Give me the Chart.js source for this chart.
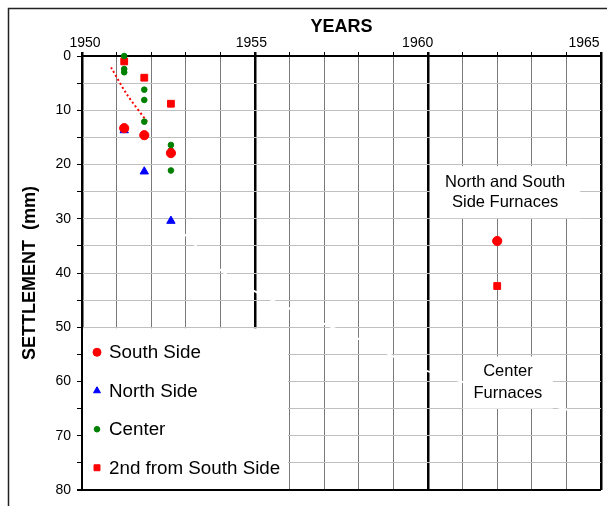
<!DOCTYPE html>
<html>
<head>
<meta charset="utf-8">
<script src="https://cdn.jsdelivr.net/npm/chart.js"></script>
<style>
  html, body { margin: 0; padding: 0; background: #fff; }
  canvas { display: block; }
</style>
</head>
<body>
<canvas id="chart" width="607" height="506"></canvas>
<script>
// Settlement vs. year, Excel-style scatter with hand-drawn legend and text boxes.

const yearTicks = [1950, 1955, 1960, 1965];

const southX = [1951.22, 1951.8, 1952.57, 1962.0];
const southY = [13.3, 14.6, 17.9, 34.1];

const northX = [1951.22, 1951.8, 1952.57];
const northY = [13.7, 21.3, 30.4];

const centerX = [1951.22, 1951.22, 1951.22, 1951.8, 1951.8, 1951.8, 1952.57, 1952.57, 1952.57];
const centerY = [0, 2.4, 3.0, 6.2, 8.1, 12.1, 16.4, 17.4, 21.1];

const secondX = [1951.22, 1951.8, 1952.57, 1962.0];
const secondY = [1.0, 4.0, 8.8, 42.4];

// red dotted trend through the first readings
const trendX = [1950.84, 1951.29, 1951.88];
const trendY = [2.1, 7.0, 12.1];

// faint white curve that only shows where it cuts the grid
const fadedX = [1952.98, 1953.99, 1955.0, 1955.95, 1956.97, 1957.98, 1959.94, 1963.9, 1964.97];
const fadedY = [32.9, 39.4, 43.4, 46.4, 49.3, 52.1, 58.0, 65.0, 66.9];

const FONT = "'Liberation Sans', Arial, sans-serif";
Chart.defaults.font.family = FONT;
Chart.defaults.color = "#000";

const pts = (xs, ys) => xs.map((x, i) => ({ x, y: ys[i] }));

const frame = {
  id: "frame",
  beforeDraw(chart) {
    const { ctx, width, height } = chart;
    ctx.save();
    ctx.fillStyle = "#fff";
    ctx.fillRect(0, 0, width, height);
    ctx.strokeStyle = "#222";
    ctx.lineWidth = 1.5;
    ctx.beginPath();
    ctx.moveTo(8.5, height);
    ctx.lineTo(8.5, 8.5);
    ctx.lineTo(width, 8.5);
    ctx.stroke();
    ctx.restore();
  }
};

const notes = [
  { lines: ["North and South", "Side Furnaces"], x: 1962.23, y: 25.1, w: 150, h: 52, gap: 20 },
  { lines: ["Center", "Furnaces"], x: 1962.31, y: 60.2, w: 90, h: 52, gap: 22 },
];

const overlay = {
  id: "overlay",
  afterDatasetsDraw(chart) {
    const { ctx, chartArea, scales } = chart;
    const xs = scales.x, ys = scales.y;
    ctx.save();

    // text boxes
    ctx.font = "16.5px " + FONT;
    ctx.textAlign = "center";
    ctx.textBaseline = "middle";
    notes.forEach(n => {
      const cx = xs.getPixelForValue(n.x);
      const cy = ys.getPixelForValue(n.y);
      ctx.fillStyle = "#fff";
      ctx.fillRect(cx - n.w / 2, cy - n.h / 2, n.w, n.h);
      ctx.fillStyle = "#000";
      n.lines.forEach((t, i) => {
        ctx.fillText(t, cx, cy + (i - (n.lines.length - 1) / 2) * n.gap);
      });
    });

    // legend box in lower-left corner
    const left = chartArea.left + 1;
    const top = ys.getPixelForValue(50) + 1;
    const right = xs.getPixelForValue(1955.95);
    const bottom = chartArea.bottom - 1;
    ctx.fillStyle = "#fff";
    ctx.fillRect(left, top, right - left, bottom - top);

    ctx.font = "18.8px " + FONT;
    ctx.textAlign = "left";
    chart.data.datasets.filter(d => !d.showLine).forEach((d, i) => {
      const y = top + 24 + i * 38.5;
      ctx.fillStyle = d.backgroundColor;
      ctx.strokeStyle = d.borderColor;
      Chart.helpers.drawPoint(ctx, {
        pointStyle: d.pointStyle, radius: d.legendRadius, rotation: 0, borderWidth: 1
      }, left + 14, y);
      ctx.fillStyle = "#000";
      ctx.fillText(d.label, left + 26, y + 1);
    });
    ctx.restore();
  }
};

const marker = (label, xs, ys, color, style, radius, legendRadius) => ({
  label,
  data: pts(xs, ys),
  backgroundColor: color,
  borderColor: color,
  pointStyle: style,
  pointRadius: radius,
  pointBorderWidth: 1,
  legendRadius,
  showLine: false,
  clip: false,
});

new Chart(document.getElementById("chart").getContext("2d"), {
  type: "scatter",
  data: {
    datasets: [
      marker("South Side", southX, southY, "#ff0000", "circle", 4.6, 4),
      marker("North Side", northX, northY, "#0000ff", "triangle", 4.8, 4),
      marker("Center", centerX, centerY, "#008000", "circle", 2.8, 2.8),
      marker("2nd from South Side", secondX, secondY, "#ff0000", "rect", 4.8, 4.2),
      {
        label: "trend", data: pts(trendX, trendY), showLine: true,
        borderColor: "#ff0000", borderWidth: 2, borderDash: [2, 2.5],
        pointRadius: 0, tension: 0.3,
      },
      {
        label: "faded", data: pts(fadedX, fadedY), showLine: true,
        borderColor: "#ffffff", borderWidth: 2,
        pointRadius: 0, tension: 0.35,
      },
    ],
  },
  options: {
    responsive: false,
    animation: false,
    devicePixelRatio: 1,
    layout: { padding: { left: 0, top: 0, right: 6, bottom: 16 } },
    plugins: { legend: { display: false }, tooltip: { enabled: false } },
    scales: {
      x: {
        type: "linear", position: "top", weight: 0,
        min: 1950, max: 1965,
        ticks: { display: false, stepSize: 1 },
        grid: {
          color: c => (c.tick && c.tick.value % 5 === 0) ? "#000" : "#7a7a7a",
          lineWidth: c => (c.tick && c.tick.value % 5 === 0) ? 2.5 : 1,
          tickColor: "#000", tickLength: 4,
        },
        border: { color: "#000", width: 2 },
        afterFit: s => { s.height = 4; },
      },
      xl: {
        type: "linear", position: "top", weight: 1,
        min: 1949.91, max: 1965.51,
        afterBuildTicks: s => { s.ticks = yearTicks.map(v => ({ value: v })); },
        ticks: { padding: 0, font: { size: 14 }, callback: v => String(v), maxRotation: 0, autoSkip: false },
        grid: { display: false, drawTicks: false, tickLength: 0 },
        border: { display: false },
        title: { display: true, text: "YEARS", font: { size: 18, weight: "bold" }, padding: { top: 16, bottom: 0 } },
        afterFit: s => { s.height = 52; },
      },
      y: {
        type: "linear", reverse: true, min: 0, max: 80,
        ticks: { stepSize: 5, padding: 6, font: { size: 14 }, callback: v => v % 10 === 0 ? String(v) : "" },
        grid: {
          color: c => c.tick && c.tick.value === 80 ? "#000" : "#c0c0c0",
          lineWidth: c => c.tick && c.tick.value === 80 ? 2 : 1,
          tickColor: "#000", tickLength: 5,
        },
        border: { color: "#000", width: 2 },
        title: { display: true, text: "SETTLEMENT  (mm)", font: { size: 18, weight: "bold" }, padding: { top: 19, bottom: 0 } },
        afterFit: s => { s.width = 82; },
      },
    },
  },
  plugins: [frame, overlay],
});
</script>
</body>
</html>
